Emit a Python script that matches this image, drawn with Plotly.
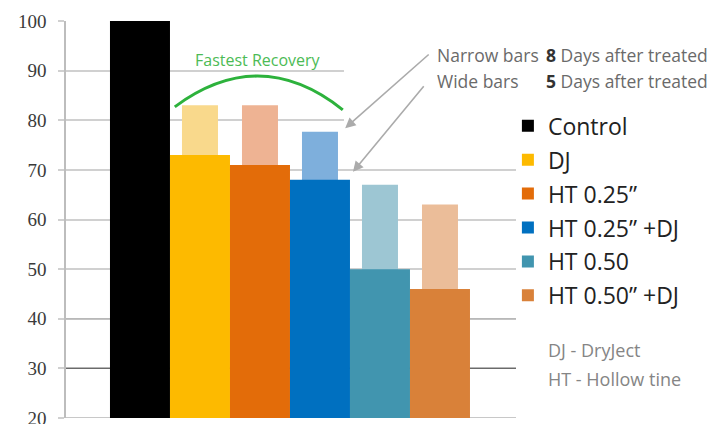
import plotly.graph_objects as go

# ---- data ----
categories = ["Control", "DJ", "HT 0.25”", "HT 0.25” +DJ", "HT 0.50", "HT 0.50” +DJ"]
wide_values_5days = [100, 73, 71, 68, 50, 46]
narrow_values_8days = [None, 83, 83, 77.7, 67, 63]
wide_colors = ["#000000", "#FDBA00", "#E36C09", "#0070C0", "#4195AF", "#D98139"]
narrow_colors = ["#000000", "#F9D98C", "#EEB393", "#7EAFDC", "#9DC6D3", "#EBBD99"]
y_tick_values = [20, 30, 40, 50, 60, 70, 80, 90, 100]

positions = list(range(len(categories)))
x_range = [-1.233, 6.267]

fig = go.Figure()

# narrow bars (8 days) drawn first so they sit behind the wide bars
fig.add_trace(go.Bar(
    x=positions, y=narrow_values_8days, width=0.6,
    marker=dict(color=narrow_colors, line=dict(width=0)),
    showlegend=False, hoverinfo="skip"))

# wide bars (5 days), one trace per category for the legend
for i, (cat, val, col) in enumerate(zip(categories, wide_values_5days, wide_colors)):
    fig.add_trace(go.Bar(
        x=[positions[i]], y=[val], width=1.0, name=cat,
        legendgroup=cat,
        marker=dict(color=col, line=dict(width=0))))

grid_col = "#D0D0D0"

fig.update_layout(
    width=718, height=416,
    margin=dict(l=58, r=210, t=13, b=6, autoexpand=False),
    paper_bgcolor="white", plot_bgcolor="white",
    barmode="overlay",
    xaxis=dict(range=x_range, showticklabels=False, showgrid=False,
               zeroline=False, showline=False, ticks="", automargin=False),
    yaxis=dict(range=[20, 100], tickvals=y_tick_values, showgrid=True,
               gridcolor=grid_col, gridwidth=2, zeroline=False,
               showline=True, linecolor="#BDBDBD", linewidth=1.5,
               ticks="outside", ticklen=6, tickcolor=grid_col, tickwidth=2,
               ticklabelstandoff=8, ticklabeloverflow="allow", automargin=False,
               tickfont=dict(family="Liberation Serif", size=19, color="#3A3A3A")),
    legend=dict(x=0.982, xanchor="left", y=0.79, yanchor="top",
                traceorder="grouped", tracegroupgap=1,
                font=dict(family="Open Sans", size=23, color="#222222"),
                bgcolor="rgba(0,0,0,0)", itemclick=False),
    showlegend=True,
)

# darker reference lines at 30 and 40 (as in the original artwork), and the base line
for yv, col, w in [(30, "#6A6A6A", 1.3), (40, "#B8B8B8", 1.3), (20, "#C8C8C8", 2)]:
    fig.add_shape(type="line", xref="x", yref="y", x0=x_range[0], x1=x_range[1],
                  y0=yv, y1=yv, line=dict(color=col, width=w), layer="between")

# white-out of gridlines behind the explanatory text
fig.add_shape(type="rect", xref="x", yref="y", x0=3.4, x1=6.3, y0=74, y1=95,
              fillcolor="white", line=dict(width=0), layer="above")

# "Fastest Recovery" arc
fig.add_shape(type="path", xref="x", yref="y",
              path="M 0.58,82.7 Q 2.0,95.4 3.38,82.1",
              line=dict(color="#2DB23C", width=3), layer="above")

fig.add_annotation(x=1.97, y=92.2, xref="x", yref="y", text="Fastest Recovery",
                   showarrow=False, font=dict(family="Open Sans", size=16, color="#4CBB55"))

# arrows
fig.add_annotation(x=3.42, y=78.4, xref="x", yref="y", ax=85, ay=-75, text="",
                   showarrow=True, arrowhead=2, arrowsize=1.3, arrowwidth=1.6,
                   arrowcolor="#ABABAB")
fig.add_annotation(x=3.55, y=69.6, xref="x", yref="y", ax=72, ay=-87, text="",
                   showarrow=True, arrowhead=2, arrowsize=1.3, arrowwidth=1.6,
                   arrowcolor="#ABABAB")

txt_font = dict(family="Open Sans", size=17.5, color="#6A6A6A")
def px_to_paper_x(px):
    return (px - 66) / 450.0
def px_to_paper_y(py):
    return (418 - py) / 397.0

fig.add_annotation(x=px_to_paper_x(435), y=px_to_paper_y(55), xref="paper", yref="paper",
                   text="Narrow bars", showarrow=False, xanchor="left", yanchor="middle",
                   font=txt_font)
fig.add_annotation(x=px_to_paper_x(544), y=px_to_paper_y(55), xref="paper", yref="paper",
                   text="<b style='color:#333'>8</b> Days after treated", showarrow=False,
                   xanchor="left", yanchor="middle", font=txt_font)
fig.add_annotation(x=px_to_paper_x(435), y=px_to_paper_y(81), xref="paper", yref="paper",
                   text="Wide bars", showarrow=False, xanchor="left", yanchor="middle",
                   font=txt_font)
fig.add_annotation(x=px_to_paper_x(544), y=px_to_paper_y(81), xref="paper", yref="paper",
                   text="<b style='color:#333'>5</b> Days after treated", showarrow=False,
                   xanchor="left", yanchor="middle", font=txt_font)

note_font = dict(family="Open Sans", size=18, color="#858585")
fig.add_annotation(x=px_to_paper_x(546), y=px_to_paper_y(350), xref="paper", yref="paper",
                   text="DJ - DryJect", showarrow=False, xanchor="left", yanchor="middle",
                   font=note_font)
fig.add_annotation(x=px_to_paper_x(546), y=px_to_paper_y(379), xref="paper", yref="paper",
                   text="HT - Hollow tine", showarrow=False, xanchor="left", yanchor="middle",
                   font=note_font)

fig.write_html("out.html")
